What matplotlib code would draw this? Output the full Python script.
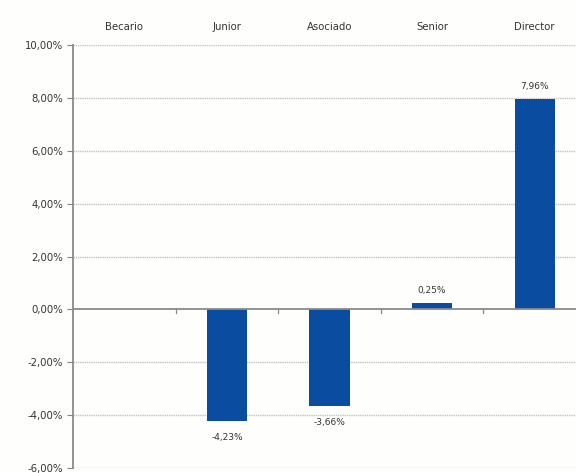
import matplotlib
matplotlib.use("Agg")
import matplotlib.pyplot as plt
from matplotlib.ticker import FuncFormatter, FixedLocator

categories = ["Becario", "Junior", "Asociado", "Senior", "Director"]
values = [None, -4.23, -3.66, 0.25, 7.96]
y_ticks = [10, 8, 6, 4, 2, 0, -2, -4, -6]

def pct(v):
    return f"{v:.2f}%".replace(".", ",")

fig = plt.figure(figsize=(5.76, 4.73), dpi=100)
fig.patch.set_facecolor("#fefefd")
ax = fig.add_axes([73 / 576, 1 - 468 / 473, 513 / 576, (468 - 45) / 473])
ax.set_facecolor("#fefefd")

x = list(range(len(categories)))
bar_color = "#0a4ca0"
for xi, v in zip(x, values):
    if v is None:
        continue
    ax.bar(xi, v, width=0.39, color=bar_color, zorder=3)
    if v >= 0:
        ax.text(xi, v + 0.3, pct(v), ha="center", va="bottom",
                fontsize=6.5, color="#333333")
    else:
        ax.text(xi, v - 0.45, pct(v), ha="center", va="top",
                fontsize=6.5, color="#333333")

ax.set_xlim(-0.5, len(categories) - 0.5)
ax.set_ylim(-6, 10)

ax.yaxis.set_major_locator(FixedLocator(y_ticks))
ax.yaxis.set_major_formatter(FuncFormatter(lambda v, p: pct(v)))
ax.tick_params(axis="y", labelsize=7.3, colors="#444444", length=4,
               width=0.8, pad=3, color="#888888")
for lbl in ax.get_yticklabels():
    lbl.set_color("#333333")

# category names along the top
ax.xaxis.tick_top()
ax.set_xticks(x)
ax.set_xticklabels(categories)
ax.tick_params(axis="x", which="major", length=0, labelsize=7.3,
               pad=9, labelcolor="#333333")

# grid
for yv in y_ticks:
    if yv == 0:
        continue
    ax.axhline(yv, color="#c4c4c4", lw=1.0, ls=(0, (1.0, 0.6)), zorder=1)

# zero axis with small category separators
ax.axhline(0, color="#8a8a8a", lw=1.3, zorder=4)
for b in [0.5, 1.5, 2.5, 3.5]:
    ax.plot([b, b], [0, -0.15], color="#8a8a8a", lw=0.9, zorder=4,
            clip_on=False)

for s in ["top", "right", "bottom"]:
    ax.spines[s].set_visible(False)
ax.spines["left"].set_color("#8a8a8a")
ax.spines["left"].set_linewidth(1.3)

fig.savefig("out.png", dpi=100, facecolor=fig.get_facecolor())
